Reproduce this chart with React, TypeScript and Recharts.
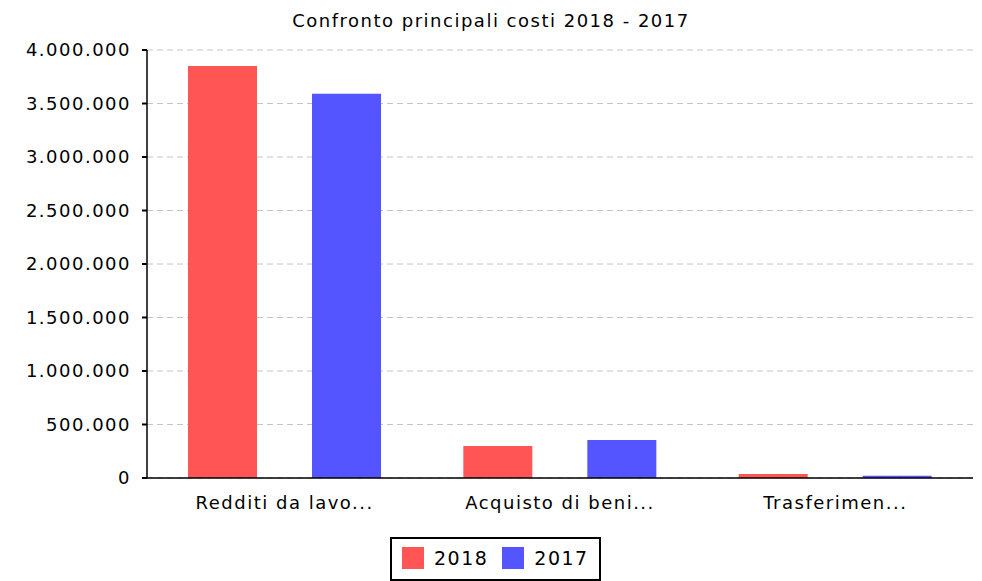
import React from "react";
import { BarChart, Bar, XAxis, YAxis, CartesianGrid, Legend } from "recharts";

const categories = ["Redditi da lavo...", "Acquisto di beni...", "Trasferimen..."];
const values2018 = [3850000, 300000, 37000];
const values2017 = [3590000, 356000, 20000];
const yTicks = [0, 500000, 1000000, 1500000, 2000000, 2500000, 3000000, 3500000, 4000000];

const RED = "#FF5555";
const BLUE = "#5555FF";
const FONT = "'DejaVu Sans', sans-serif";
const SPACING = 1.5;

const data = categories.map((name, i) => ({
  name,
  y2018: values2018[i],
  y2017: values2017[i],
}));

const fmt = (v: number) => String(v).replace(/\B(?=(\d{3})+(?!\d))/g, ".");

const LegendBox = () => (
  <div
    style={{
      display: "flex",
      alignItems: "center",
      border: "2px solid #000",
      padding: "8px 10px 10px 10px",
      background: "#fff",
      fontFamily: FONT,
      fontSize: 19,
      letterSpacing: SPACING,
      color: "#000",
    }}
  >
    <span style={{ width: 22, height: 22, background: RED, display: "inline-block" }} />
    <span style={{ marginLeft: 10, marginRight: 14 }}>2018</span>
    <span style={{ width: 22, height: 22, background: BLUE, display: "inline-block" }} />
    <span style={{ marginLeft: 10 }}>2017</span>
  </div>
);

export default function App() {
  return (
    <div style={{ position: "absolute", left: 0, top: 0, width: 982, height: 581, background: "#fff", overflow: "hidden" }}>
      <div
        style={{
          position: "absolute",
          top: 10,
          left: 0,
          width: 982,
          textAlign: "center",
          fontFamily: FONT,
          fontSize: 18,
          letterSpacing: SPACING,
          color: "#000",
        }}
      >
        Confronto principali costi 2018 - 2017
      </div>
      <BarChart
        width={982}
        height={581}
        data={data}
        margin={{ top: 50, right: 9, left: 0, bottom: 0 }}
        barGap={55}
      >
        <CartesianGrid vertical={false} stroke="#c4c4c4" strokeDasharray="6 4" />
        <XAxis
          dataKey="name"
          height={103}
          tickLine={false}
          axisLine={{ stroke: "#000", strokeWidth: 1.5 }}
          tickMargin={12}
          tick={{ fill: "#000", fontFamily: FONT, fontSize: 18, letterSpacing: SPACING }}
        />
        <YAxis
          width={147}
          domain={[0, 4000000]}
          ticks={yTicks}
          tickFormatter={fmt}
          axisLine={{ stroke: "#000", strokeWidth: 1.5 }}
          tickLine={{ stroke: "#000", strokeWidth: 2 }}
          tickSize={5}
          tickMargin={11}
          tick={{ fill: "#000", fontFamily: FONT, fontSize: 18, letterSpacing: SPACING }}
          interval={0}
        />
        <Legend
          layout="horizontal"
          verticalAlign="middle"
          align="center"
          content={() => <LegendBox />}
          wrapperStyle={{ top: 537, left: 390, width: "auto" }}
        />
        <Bar dataKey="y2018" name="2018" fill={RED} barSize={69} isAnimationActive={false} />
        <Bar dataKey="y2017" name="2017" fill={BLUE} barSize={69} isAnimationActive={false} />
      </BarChart>
    </div>
  );
}
